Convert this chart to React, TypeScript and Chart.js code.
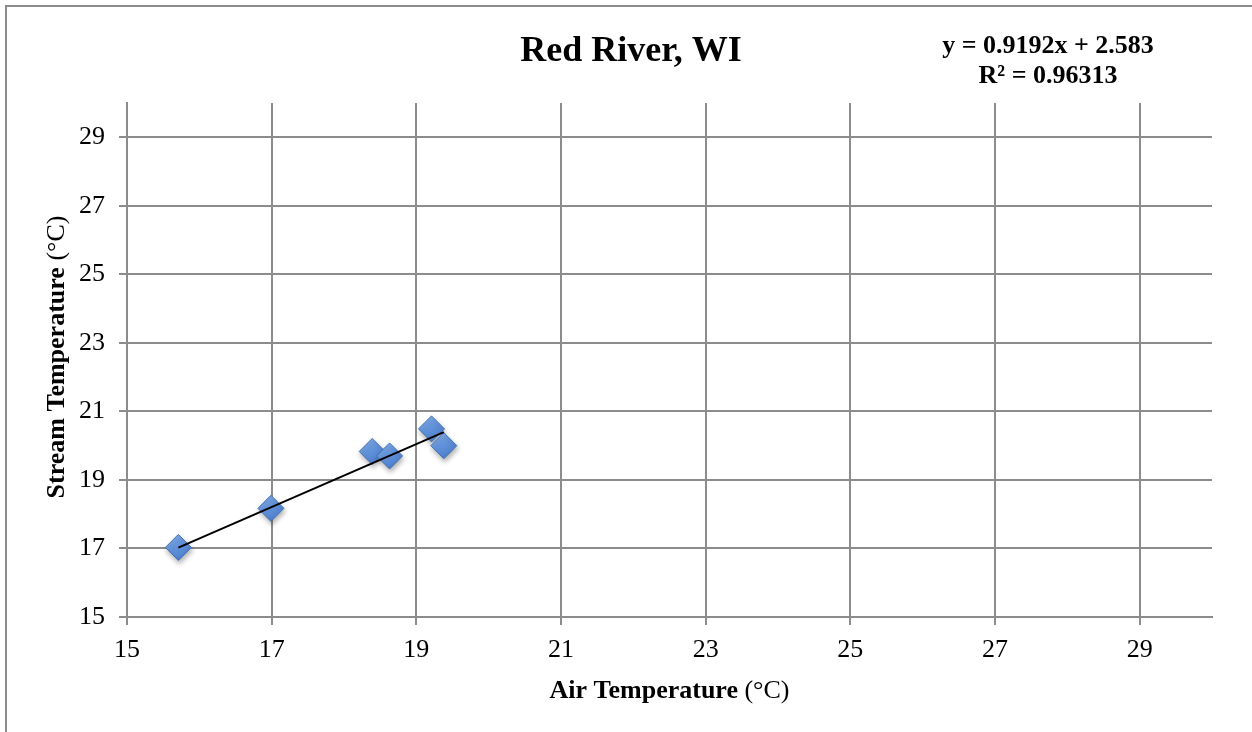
import React, { useEffect, useRef } from "react";
import { Chart, registerables } from "chart.js";

Chart.register(...registerables);

// ---- Data ----
const airTemp = [15.71, 16.99, 18.39, 18.63, 19.21, 19.38];
const streamTemp = [17.03, 18.17, 19.83, 19.7, 20.49, 20.0];
const xTicks = [15, 17, 19, 21, 23, 25, 27, 29];
const yTicks = [15, 17, 19, 21, 23, 25, 27, 29];
const SLOPE = 0.9192;
const INTERCEPT = 2.583;
const R2 = "0.96313";
const TITLE = "Red River, WI";
const X_TITLE_BOLD = "Air Temperature";
const Y_TITLE_BOLD = "Stream Temperature";
const UNIT = " (°C)";

const FONT = '"Liberation Serif", "Times New Roman", Times, serif';
const GRID = "#8c8c8c";
const MARKER_R = 13;

function drawMixed(ctx: CanvasRenderingContext2D, parts: [string, string][], cx: number, y: number) {
  let total = 0;
  const widths: number[] = [];
  for (const [t, w] of parts) {
    ctx.font = `${w} 26px ${FONT}`;
    const m = ctx.measureText(t).width;
    widths.push(m);
    total += m;
  }
  let x = cx - total / 2;
  ctx.textAlign = "left";
  parts.forEach(([t, w], i) => {
    ctx.font = `${w} 26px ${FONT}`;
    ctx.fillText(t, x, y);
    x += widths[i];
  });
}

const decorPlugin = {
  id: "decor",
  beforeDraw(chart: any) {
    const ctx = chart.ctx as CanvasRenderingContext2D;
    ctx.save();
    ctx.fillStyle = "#ffffff";
    ctx.fillRect(0, 0, chart.width, chart.height);
    ctx.strokeStyle = GRID;
    ctx.lineWidth = 2;
    ctx.strokeRect(6, 6, chart.width + 100, chart.height + 100);
    ctx.restore();
  },
  beforeDatasetDraw(chart: any, args: any) {
    if (args.index === 1) {
      const ctx = chart.ctx as CanvasRenderingContext2D;
      ctx.save();
      ctx.shadowColor = "rgba(0,0,0,0.3)";
      ctx.shadowBlur = 5;
      ctx.shadowOffsetX = 1;
      ctx.shadowOffsetY = 3;
    }
  },
  afterDatasetDraw(chart: any, args: any) {
    if (args.index === 1) {
      chart.ctx.restore();
    }
  },
  afterDraw(chart: any) {
    const ctx = chart.ctx as CanvasRenderingContext2D;
    const area = chart.chartArea;
    ctx.save();
    ctx.fillStyle = "#000";
    ctx.textBaseline = "alphabetic";
    ctx.textAlign = "center";
    ctx.font = `bold 36px ${FONT}`;
    ctx.fillText(TITLE, 631, 61);
    ctx.font = `bold 26px ${FONT}`;
    ctx.fillText(`y = ${SLOPE}x + ${INTERCEPT}`, 1048, 53);
    ctx.fillText(`R² = ${R2}`, 1048, 83);
    const cx = (area.left + area.right) / 2;
    const cy = (area.top + area.bottom) / 2;
    drawMixed(ctx, [[X_TITLE_BOLD, "bold"], [UNIT, "normal"]], cx, 698);
    ctx.translate(64, cy - 3);
    ctx.rotate(-Math.PI / 2);
    drawMixed(ctx, [[Y_TITLE_BOLD, "bold"], [UNIT, "normal"]], 0, 0);
    ctx.restore();
  },
};

export default function App() {
  const ref = useRef<HTMLCanvasElement | null>(null);
  useEffect(() => {
    if (!ref.current) return;
    const xMin = Math.min(...airTemp);
    const xMax = Math.max(...airTemp);
    const trend = [
      { x: xMin, y: SLOPE * xMin + INTERCEPT },
      { x: xMax, y: SLOPE * xMax + INTERCEPT },
    ];
    const points = airTemp.map((x, i) => ({ x, y: streamTemp[i] }));
    const axisCommon = (ticks: number[]) => ({
      type: "linear" as const,
      min: 15,
      max: 30,
      afterBuildTicks: (scale: any) => {
        scale.ticks = ticks.map((v) => ({ value: v }));
      },
      grid: { color: GRID, lineWidth: 2, tickLength: 8, drawTicks: true },
      border: { display: true, color: GRID, width: 2 },
    });
    const markerFill = (c: any) => {
      const chart = c.chart;
      const raw = c.raw;
      if (!raw || !chart.scales || !chart.scales.x || !chart.scales.y) return "#5b8ed8";
      const px = chart.scales.x.getPixelForValue(raw.x);
      const py = chart.scales.y.getPixelForValue(raw.y);
      if (!isFinite(px) || !isFinite(py)) return "#5b8ed8";
      const g = chart.ctx.createLinearGradient(px - MARKER_R * 0.6, py - MARKER_R, px + MARKER_R * 0.6, py + MARKER_R);
      g.addColorStop(0, "#86afea");
      g.addColorStop(0.5, "#5f90d9");
      g.addColorStop(1, "#4a7bc8");
      return g;
    };
    const chart = new Chart(ref.current, {
      type: "scatter",
      data: {
        datasets: [
          {
            data: trend,
            showLine: true,
            borderColor: "#000",
            borderWidth: 2,
            pointRadius: 0,
            order: 0,
          },
          {
            data: points,
            pointStyle: "rectRot",
            pointRadius: MARKER_R,
            pointHoverRadius: MARKER_R,
            backgroundColor: markerFill,
            borderColor: "#3f70b8",
            borderWidth: 1,
            order: 1,
          },
        ],
      },
      options: {
        responsive: false,
        animation: false,
        layout: { padding: { top: 103, right: 40, left: 0, bottom: 0 } },
        plugins: { legend: { display: false }, tooltip: { enabled: false }, title: { display: false } },
        scales: {
          x: {
            ...axisCommon(xTicks),
            afterFit: (scale: any) => {
              scale.height = 115;
            },
            ticks: { font: { family: FONT, size: 26 }, color: "#000", padding: 10, maxRotation: 0, autoSkip: false },
          },
          y: {
            ...axisCommon(yTicks),
            afterFit: (scale: any) => {
              scale.width = 127;
            },
            ticks: { font: { family: FONT, size: 26 }, color: "#000", padding: 14, autoSkip: false },
          },
        },
      },
      plugins: [decorPlugin],
    });
    return () => chart.destroy();
  }, []);
  return (
    <div style={{ position: "fixed", left: 0, top: 0, width: 1252, height: 732, background: "#fff" }}>
      <canvas ref={ref} width={1252} height={732} style={{ display: "block" }} />
    </div>
  );
}
